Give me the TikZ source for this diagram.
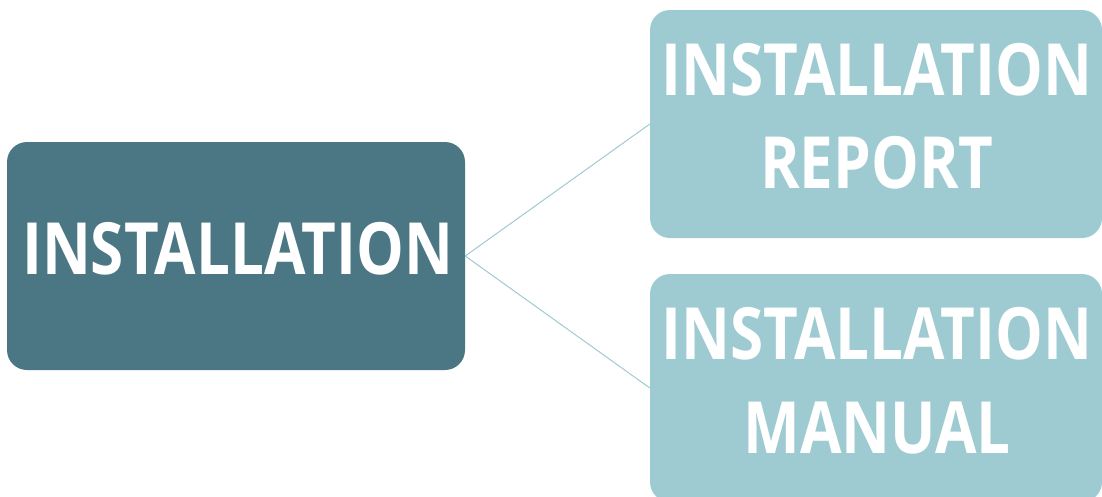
\documentclass[tikz,border=0pt]{standalone}
\usepackage{fontspec}
\setmainfont{Open Sans}[BoldFont={Open Sans Bold}, BoldFeatures={FakeStretch=0.835}]
\definecolor{darkbox}{HTML}{4B7785}
\definecolor{lightbox}{HTML}{9ECBD1}
\tikzset{
  box/.style={rounded corners=20pt, inner sep=0pt, minimum width=#1, minimum height=228pt},
  lbl/.style={inner sep=0pt, text=white, anchor=base, font=\fontsize{72}{93}\selectfont\bfseries},
  link/.style={draw=lightbox, line width=1pt}
}
\begin{document}
\begin{tikzpicture}[x=1pt,y=-1pt]
\useasboundingbox (0,0) rectangle (1102,496);
\node[box=458pt, fill=darkbox] (main) at (236,256) {};
\node[box=452pt, fill=lightbox] (report) at (876,124) {};
\node[box=452pt, fill=lightbox] (manual) at (876,388) {};
\node[lbl] (mainT) at (237.5,274) {INSTALLATION};
\node[lbl] (reportA) at (877,95) {INSTALLATION};
\node[lbl] (reportB) at (877,188) {REPORT};
\node[lbl] (manualA) at (877,359) {INSTALLATION};
\node[lbl] (manualB) at (877,453) {MANUAL};
\draw[link] (main.east) -- (report.west);
\draw[link] (main.east) -- (manual.west);
\end{tikzpicture}
\end{document}
